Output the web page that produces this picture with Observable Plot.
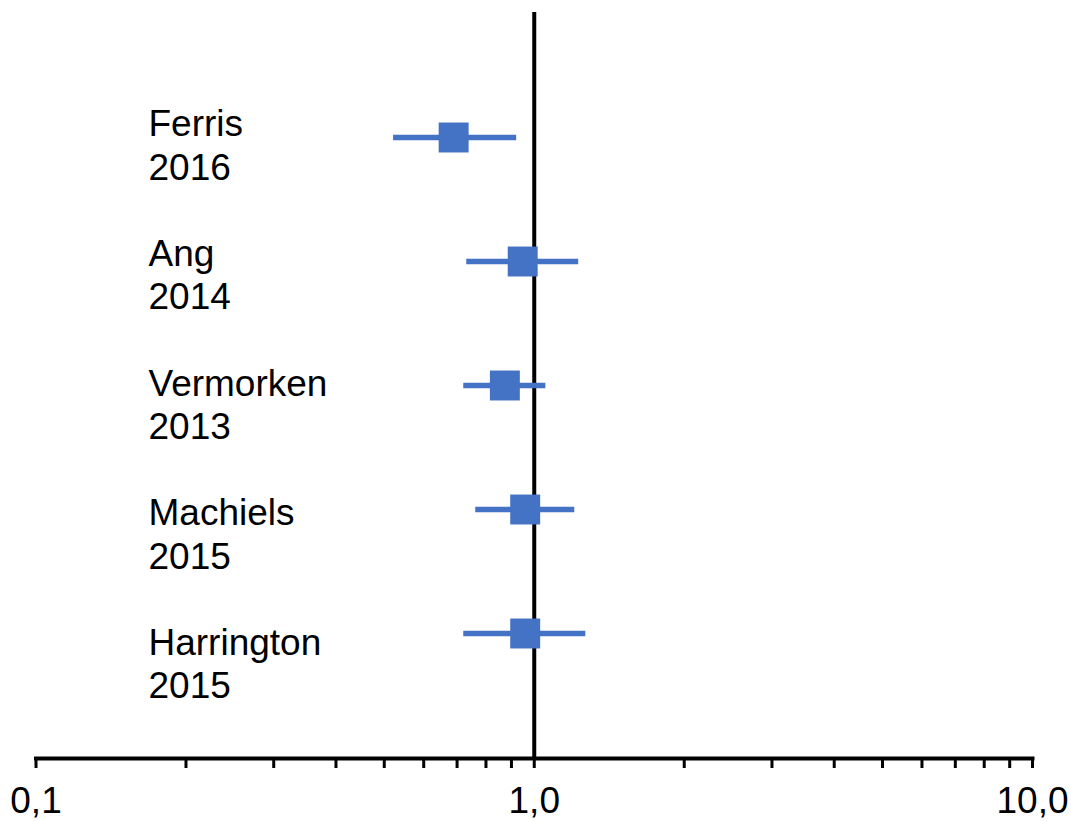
<!DOCTYPE html>
<html><head><meta charset="utf-8">
<script src="https://cdn.jsdelivr.net/npm/d3@7"></script>
<script src="https://cdn.jsdelivr.net/npm/@observablehq/plot@0.6"></script>
<style>body{margin:0;background:#fff} #chart svg{display:block}</style>
</head><body><div id="chart"></div>
<script>
const studies = ["Ferris", "Ang", "Vermorken", "Machiels", "Harrington"];
const years = ["2016", "2014", "2013", "2015", "2015"];
const estimate = [0.689, 0.948, 0.873, 0.959, 0.959];
const lower = [0.522, 0.732, 0.722, 0.763, 0.722];
const upper = [0.922, 1.228, 1.055, 1.206, 1.269];
const tickValues = [0.1, 0.2, 0.3, 0.4, 0.5, 0.6, 0.7, 0.8, 0.9, 1, 2, 3, 4, 5, 6, 7, 8, 9, 10];
const tickLabelValues = [0.1, 1, 10];
const tickLabelTexts = ["0,1", "1,0", "10,0"];

const rows = studies.map((s, i) => ({study: s, year: years[i], est: estimate[i], lo: lower[i], hi: upper[i]}));
const labelMap = new Map(tickLabelValues.map((v, i) => [v, tickLabelTexts[i]]));
// the study labels form one text block, with a blank line between studies
const labelBlock = studies.map((s, i) => s + "\n" + years[i]).join("\n\n");
const blue = "#4472C4";

const chart = Plot.plot({
  width: 1071,
  height: 821,
  marginLeft: 35.5,
  marginRight: 39,
  marginTop: 12,
  marginBottom: 63,
  style: {fontFamily: "'Liberation Sans', Arial, sans-serif", color: "black", background: "white"},
  x: {type: "log", domain: [0.1, 10]},
  y: {type: "point", domain: studies, padding: 1, axis: null},
  marks: [
    Plot.ruleX([1], {stroke: "black", strokeWidth: 4}),
    Plot.frame({anchor: "bottom", stroke: "black", strokeWidth: 4}),
    Plot.axisX({ticks: tickValues, tickFormat: d => labelMap.get(d) ?? "", tickSize: 10, tickPadding: 18.7, fontSize: 37, stroke: "black", strokeWidth: 3, fill: "black"}),
    Plot.ruleY(rows, {y: "study", x1: "lo", x2: "hi", stroke: blue, strokeWidth: 5.5}),
    Plot.dot(rows, {x: "est", y: "study", symbol: "square", r: 16.9, fill: blue, stroke: null}),
    Plot.text([labelBlock], {text: d => d, frameAnchor: "top-left", dx: 112.5, dy: 93.2, textAnchor: "start", lineAnchor: "top", lineHeight: 1.168, fontSize: 37, fill: "black"})
  ]
});
document.getElementById("chart").appendChild(chart);
</script>
</body></html>
